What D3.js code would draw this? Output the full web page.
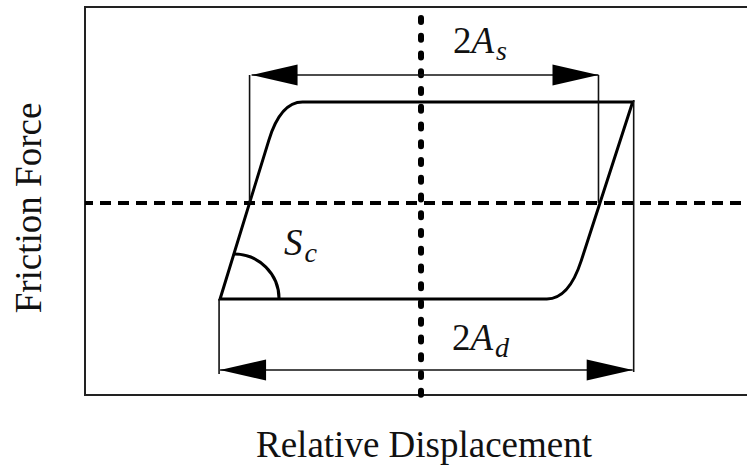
<!DOCTYPE html>
<html>
<head>
<meta charset="utf-8">
<script src="https://cdn.jsdelivr.net/npm/d3@7"></script>
<style>
  html, body { margin: 0; padding: 0; background: #fff; }
  svg { display: block; }
  text { font-family: "Liberation Serif", "Times New Roman", serif; fill: #111; }
</style>
</head>
<body>
<svg id="chart" width="747" height="466"></svg>
<script>
// Idealised friction hysteresis loop: force vs relative displacement.
// Loop vertices in normalised units, order: bottom-left, top-left, top-right, bottom-right.
const loopDisp  = [-0.598, -0.418, 0.630, 0.440];
const loopForce = [-0.500,  0.525, 0.525, -0.500];
const loopRounded = [false, true, false, true];

const axisTitles = ["Relative Displacement", "Friction Force"];
// Annotation symbols: [leading, italic, subscript]
const labelStick = ["2", "A", "s"];
const labelDyn   = ["2", "A", "d"];
const labelSlope = ["", "S", "c"];

const svg = d3.select("#chart");

const x = d3.scaleLinear().domain([-1, 1]).range([85, 757]);
const y = d3.scaleLinear().domain([-1, 1.02]).range([395, 7]);

const pts = loopDisp.map((d, i) => ({ px: x(d), py: y(loopForce[i]), round: loopRounded[i] }));

// frame
svg.append("rect")
  .attr("x", x(-1)).attr("y", y(1.02))
  .attr("width", x(1) - x(-1)).attr("height", y(-1) - y(1.02))
  .attr("fill", "none").attr("stroke", "#222").attr("stroke-width", 2);

// zero-force dashed line
svg.append("line")
  .attr("x1", x(-1)).attr("x2", x(1))
  .attr("y1", y(0)).attr("y2", y(0))
  .attr("stroke", "#000").attr("stroke-width", 4)
  .attr("stroke-dasharray", "11 7").attr("stroke-dashoffset", 3);

// zero-displacement dotted line
svg.append("line")
  .attr("x1", x(0)).attr("x2", x(0))
  .attr("y1", y(1.02)).attr("y2", y(-1))
  .attr("stroke", "#000").attr("stroke-width", 6)
  .attr("stroke-linecap", "round")
  .attr("stroke-dasharray", "4 13.75").attr("stroke-dashoffset", -11);

// loop path with rounded transition corners
function loopPath(p) {
  const path = d3.path();
  const n = p.length;
  const lerp = (a, b, t) => [a.px + (b.px - a.px) * t, a.py + (b.py - a.py) * t];
  const dist = (a, b) => Math.hypot(b.px - a.px, b.py - a.py);
  const R_EDGE = 40, R_FLAT = 22;
  path.moveTo(p[0].px, p[0].py);
  for (let i = 1; i <= n; i++) {
    const c = p[i % n];
    if (c.round) {
      const prev = p[i - 1], next = p[(i + 1) % n];
      // slanted edge enters the corner, flat edge leaves it (or vice versa)
      const rIn  = Math.abs(prev.py - c.py) > 1 ? R_EDGE : R_FLAT;
      const rOut = Math.abs(next.py - c.py) > 1 ? R_EDGE : R_FLAT;
      const a = lerp(c, prev, rIn / dist(c, prev));
      const b = lerp(c, next, rOut / dist(c, next));
      path.lineTo(a[0], a[1]);
      path.quadraticCurveTo(c.px, c.py, b[0], b[1]);
    } else {
      path.lineTo(c.px, c.py);
    }
  }
  path.closePath();
  return path.toString();
}

svg.append("path")
  .attr("d", loopPath(pts))
  .attr("fill", "none").attr("stroke", "#000")
  .attr("stroke-width", 3).attr("stroke-linejoin", "miter");

// zero-force crossings of the slanted edges
function crossAtZero(a, b) {
  const t = (y(0) - a.py) / (b.py - a.py);
  return a.px + (b.px - a.px) * t;
}
const xsLeft = crossAtZero(pts[0], pts[1]);
const xsRight = crossAtZero(pts[3], pts[2]);

// dimension lines
const topDimY = 75, botDimY = 370;
const dim = svg.append("g").attr("stroke", "#111").attr("stroke-width", 1.6);

function extLine(px, ya, yb) {
  dim.append("line").attr("x1", px).attr("x2", px).attr("y1", ya).attr("y2", yb);
}
extLine(xsLeft, topDimY, y(0));
extLine(xsRight - 1.5, topDimY, y(0));
extLine(pts[0].px - 1, pts[0].py, botDimY + 4);
extLine(pts[2].px + 1, pts[2].py - 2, botDimY + 2);

function arrow(x1, x2, yy) {
  dim.append("line").attr("x1", x1).attr("x2", x2).attr("y1", yy).attr("y2", yy);
  const L = 46, H = 10.5;
  const head = d3.line();
  [[x1, 1], [x2, -1]].forEach(([tx, dir]) => {
    svg.append("path")
      .attr("d", head([[tx, yy], [tx + dir * L, yy - H], [tx + dir * L, yy + H]]) + "Z")
      .attr("fill", "#000");
  });
}
arrow(xsLeft + 2, xsRight - 1.5, topDimY);
arrow(pts[0].px, pts[2].px, botDimY);

// slope angle marker at the bottom-left corner
const arcR = 45;
const arcCx = pts[0].px + 14, arcCy = pts[0].py;
svg.append("path")
  .attr("transform", `translate(${arcCx},${arcCy})`)
  .attr("d", d3.arc()({ innerRadius: arcR, outerRadius: arcR, startAngle: 0, endAngle: Math.PI / 2 }))
  .attr("fill", "none").attr("stroke", "#000").attr("stroke-width", 3);

// math-style labels
function mathLabel(parts, px, py, size) {
  const t = svg.append("text").attr("x", px).attr("y", py).style("font-size", size + "px");
  if (parts[0]) t.append("tspan").text(parts[0]);
  t.append("tspan").style("font-style", "italic").text(parts[1]);
  t.append("tspan").style("font-style", "italic").style("font-size", (size * 0.76) + "px")
    .attr("dy", size * 0.2).attr("dx", 2).text(parts[2]);
}
mathLabel(labelStick, 453, topDimY - 22, 37);
mathLabel(labelDyn, 452, botDimY - 20, 37);
mathLabel(labelSlope, 284, 255, 37);

// axis titles
svg.append("text")
  .attr("x", 424).attr("y", 457)
  .attr("text-anchor", "middle")
  .style("font-size", "37px")
  .text(axisTitles[0]);

svg.append("text")
  .attr("transform", "translate(41,208) rotate(-90)")
  .attr("text-anchor", "middle")
  .style("font-size", "37px")
  .text(axisTitles[1]);
</script>
</body>
</html>
